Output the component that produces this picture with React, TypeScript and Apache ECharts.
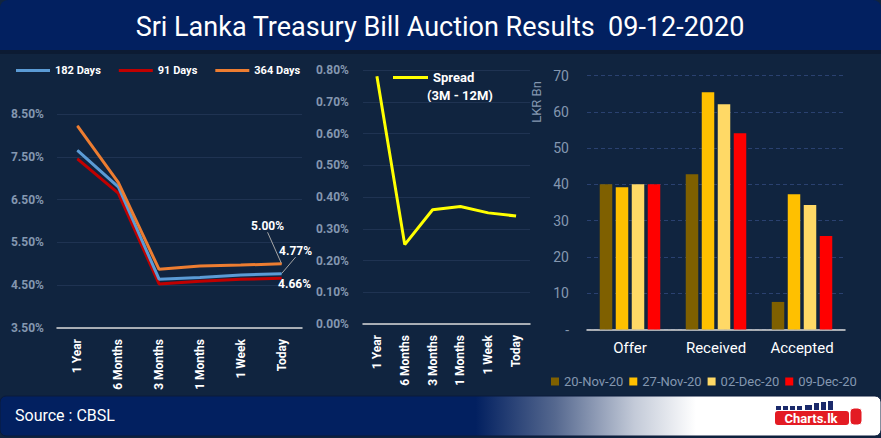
import React, { useEffect, useRef } from "react";
import * as echarts from "echarts";

const tenorCategories = ["1 Year", "6 Months", "3 Months", "1 Months", "1 Week", "Today"];
const days182 = [7.65, 6.8, 4.64, 4.68, 4.74, 4.77];
const days91 = [7.45, 6.65, 4.53, 4.59, 4.64, 4.66];
const days364 = [8.22, 6.9, 4.87, 4.95, 4.97, 5.0];
const spreadValues = [0.78, 0.25, 0.36, 0.37, 0.35, 0.34];
const yieldTicks = [3.5, 4.5, 5.5, 6.5, 7.5, 8.5];

const auctionCategories = ["Offer", "Received", "Accepted"];
const nov20 = [40, 42.8, 7.6];
const nov27 = [39.2, 65.4, 37.3];
const dec02 = [40, 62.1, 34.3];
const dec09 = [40, 54.1, 25.8];

const FONT = "Roboto, 'DejaVu Sans', sans-serif";
const AXIS_GRAY = "#8497b0";
const GRID_LINE = "#1f3352";

function withLastLabel(values: number[]) {
  return values.map((v, i) =>
    i === values.length - 1 ? { value: v, label: { show: true } } : v
  );
}

export default function App() {
  const ref = useRef<HTMLDivElement>(null);

  useEffect(() => {
    if (!ref.current) return;
    const chart = echarts.init(ref.current, null, { renderer: "svg" });

    const pct2 = (v: number) => v.toFixed(2) + "%";
    const lineLabel = {
      show: false,
      color: "#ffffff",
      fontFamily: FONT,
      fontWeight: "bold",
      fontSize: 12,
      formatter: (p: any) => pct2(p.value),
    };

    const tenorXAxis = (gridIndex: number) => ({
      type: "category",
      gridIndex,
      data: tenorCategories,
      boundaryGap: true,
      axisTick: { show: false },
      axisLine: { lineStyle: { color: "#d9d9d9", width: 1.5 } },
      axisLabel: {
        rotate: 90,
        color: "#ffffff",
        fontFamily: FONT,
        fontWeight: "bold",
        fontSize: 12,
        margin: 11,
        interval: 0,
      },
    });

    const logoBars = [
      [776, 406, 5, 4],
      [783, 406, 5, 4],
      [790, 406, 5, 4],
      [797, 406, 5, 4],
      [805, 405, 7, 5],
      [814, 403, 5, 7],
      [821, 402, 5, 8],
      [828, 401, 5, 9],
    ];

    const lineSeries = (name: string, values: number[], color: string, extra: any) => ({
      name,
      type: "line",
      xAxisIndex: 0,
      yAxisIndex: 0,
      data: withLastLabel(values),
      color,
      lineStyle: { width: 3, color },
      itemStyle: { color },
      showSymbol: true,
      showAllSymbol: true,
      symbol: "circle",
      symbolSize: 1,
      label: lineLabel,
      ...extra,
    });

    chart.setOption({
      animation: false,
      backgroundColor: "#10243f",
      textStyle: { fontFamily: FONT },
      graphic: [
        {
          type: "rect",
          shape: { x: 0, y: 0, width: 881, height: 50, r: [8, 8, 0, 0] },
          style: { fill: "#022060" },
        },
        {
          type: "rect",
          shape: { x: 0, y: 50, width: 881, height: 4 },
          style: { fill: "#0c1b33" },
        },
        {
          type: "text",
          x: 440,
          y: 27,
          style: {
            text: "Sri Lanka Treasury Bill Auction Results  09-12-2020",
            fill: "#ffffff",
            fontFamily: FONT,
            fontSize: 27,
            align: "center",
            verticalAlign: "middle",
          },
        },
        {
          type: "rect",
          shape: { x: 0, y: 396, width: 881, height: 40, r: 6 },
          style: {
            fill: new echarts.graphic.LinearGradient(0, 0, 1, 0, [
              { offset: 0, color: "#022060" },
              { offset: 0.54, color: "#022060" },
              { offset: 0.63, color: "#55688f" },
              { offset: 0.72, color: "#c3cad8" },
              { offset: 0.79, color: "#ffffff" },
              { offset: 1, color: "#ffffff" },
            ]),
            stroke: "#0a1a3a",
            lineWidth: 1,
          },
        },
        {
          type: "text",
          x: 15,
          y: 415,
          style: {
            text: "Source : CBSL",
            fill: "#ffffff",
            fontFamily: FONT,
            fontSize: 16,
            verticalAlign: "middle",
          },
        },
        ...logoBars.map((b) => ({
          type: "rect",
          shape: { x: b[0], y: b[1], width: b[2], height: b[3] },
          style: { fill: "#1b2a6b" },
        })),
        {
          type: "rect",
          shape: { x: 775, y: 411, width: 74, height: 14, r: 3 },
          style: { fill: "#e31b23" },
        },
        {
          type: "text",
          x: 811,
          y: 418.5,
          style: {
            text: "Charts.lk",
            fill: "#ffffff",
            fontFamily: FONT,
            fontWeight: "bold",
            fontSize: 13,
            align: "center",
            verticalAlign: "middle",
          },
        },
        {
          type: "rect",
          shape: { x: 850, y: 408, width: 12, height: 17, r: 4 },
          style: { fill: "#e31b23", stroke: "#ffffff", lineWidth: 1 },
        },
        {
          type: "text",
          x: 536,
          y: 102,
          rotation: Math.PI / 2,
          style: {
            text: "LKR Bn",
            fill: AXIS_GRAY,
            fontFamily: FONT,
            fontSize: 13,
            align: "center",
            verticalAlign: "middle",
          },
        },
        {
          type: "text",
          x: 460,
          y: 95,
          style: {
            text: "(3M - 12M)",
            fill: "#ffffff",
            fontFamily: FONT,
            fontWeight: "bold",
            fontSize: 13,
            align: "center",
            verticalAlign: "middle",
          },
        },
      ],
      legend: [
        {
          left: 16,
          top: 65,
          padding: 0,
          itemGap: 18,
          itemWidth: 34,
          itemHeight: 3,
          icon: "rect",
          data: ["182 Days", "91 Days", "364 Days"],
          textStyle: { color: "#ffffff", fontFamily: FONT, fontWeight: "bold", fontSize: 11 },
        },
        {
          left: 393,
          top: 71,
          padding: 0,
          itemWidth: 35,
          itemHeight: 3,
          icon: "rect",
          data: ["Spread"],
          textStyle: { color: "#ffffff", fontFamily: FONT, fontWeight: "bold", fontSize: 13 },
        },
        {
          left: 551,
          top: 375,
          padding: 0,
          itemGap: 6,
          itemWidth: 8,
          itemHeight: 8,
          icon: "rect",
          data: ["20-Nov-20", "27-Nov-20", "02-Dec-20", "09-Dec-20"],
          textStyle: { color: AXIS_GRAY, fontFamily: FONT, fontSize: 13 },
        },
      ],
      grid: [
        { left: 57, top: 114, width: 245, height: 214 },
        { left: 363, top: 70, width: 167, height: 254 },
        { left: 587, top: 75.5, width: 258, height: 254 },
      ],
      xAxis: [
        tenorXAxis(0),
        tenorXAxis(1),
        {
          type: "category",
          gridIndex: 2,
          data: auctionCategories,
          axisTick: { show: false },
          axisLine: { lineStyle: { color: "#d9d9d9", width: 1.5 } },
          axisLabel: { color: "#ffffff", fontFamily: FONT, fontSize: 15, margin: 11 },
        },
      ],
      yAxis: [
        {
          type: "value",
          gridIndex: 0,
          min: 3.5,
          max: 8.5,
          axisLine: { show: false },
          axisTick: { show: false, customValues: yieldTicks },
          axisLabel: {
            customValues: yieldTicks,
            formatter: pct2,
            color: AXIS_GRAY,
            fontFamily: FONT,
            fontWeight: "bold",
            fontSize: 12,
            margin: 13,
          },
          splitLine: { show: true, lineStyle: { color: GRID_LINE, width: 1 } },
        },
        {
          type: "value",
          gridIndex: 1,
          min: 0,
          max: 0.8,
          interval: 0.1,
          axisLine: { show: false },
          axisTick: { show: false },
          axisLabel: {
            formatter: pct2,
            color: AXIS_GRAY,
            fontFamily: FONT,
            fontWeight: "bold",
            fontSize: 12,
            margin: 14,
          },
          splitLine: { show: true, lineStyle: { color: GRID_LINE, width: 1 } },
        },
        {
          type: "value",
          gridIndex: 2,
          min: 0,
          max: 70,
          interval: 10,
          axisLine: { show: false },
          axisTick: { show: false },
          axisLabel: {
            formatter: (v: number) => (v === 0 ? "-" : String(v)),
            color: AXIS_GRAY,
            fontFamily: FONT,
            fontSize: 14,
            margin: 18,
          },
          splitLine: { show: true, lineStyle: { color: "#2a4170", type: [4, 3], width: 1 } },
        },
      ],
      series: [
        lineSeries("91 Days", days91, "#c00000", {
          labelLayout: { dx: 13, dy: 17 },
        }),
        lineSeries("182 Days", days182, "#5b9bd5", {
          labelLayout: { dx: 14, dy: -11 },
          labelLine: { show: true, lineStyle: { color: "#a6a6a6", width: 1 } },
        }),
        lineSeries("364 Days", days364, "#ed7d31", {
          labelLayout: { dx: -14, dy: -26 },
          labelLine: { show: true, lineStyle: { color: "#a6a6a6", width: 1 } },
        }),
        {
          name: "Spread",
          type: "line",
          xAxisIndex: 1,
          yAxisIndex: 1,
          data: spreadValues,
          color: "#ffff00",
          lineStyle: { width: 3, color: "#ffff00" },
          showSymbol: false,
          symbol: "none",
        },
        ...[
          ["20-Nov-20", nov20, "#7f6000"],
          ["27-Nov-20", nov27, "#ffc000"],
          ["02-Dec-20", dec02, "#ffd966"],
          ["09-Dec-20", dec09, "#ff0000"],
        ].map(([name, data, color]) => ({
          name,
          type: "bar",
          xAxisIndex: 2,
          yAxisIndex: 2,
          data,
          color,
          barWidth: 12.5,
          barGap: "28%",
          itemStyle: { color },
        })),
      ],
    });

    return () => chart.dispose();
  }, []);

  return (
    <div
      ref={ref}
      style={{ position: "fixed", left: 0, top: 0, width: 881, height: 438 }}
    />
  );
}
